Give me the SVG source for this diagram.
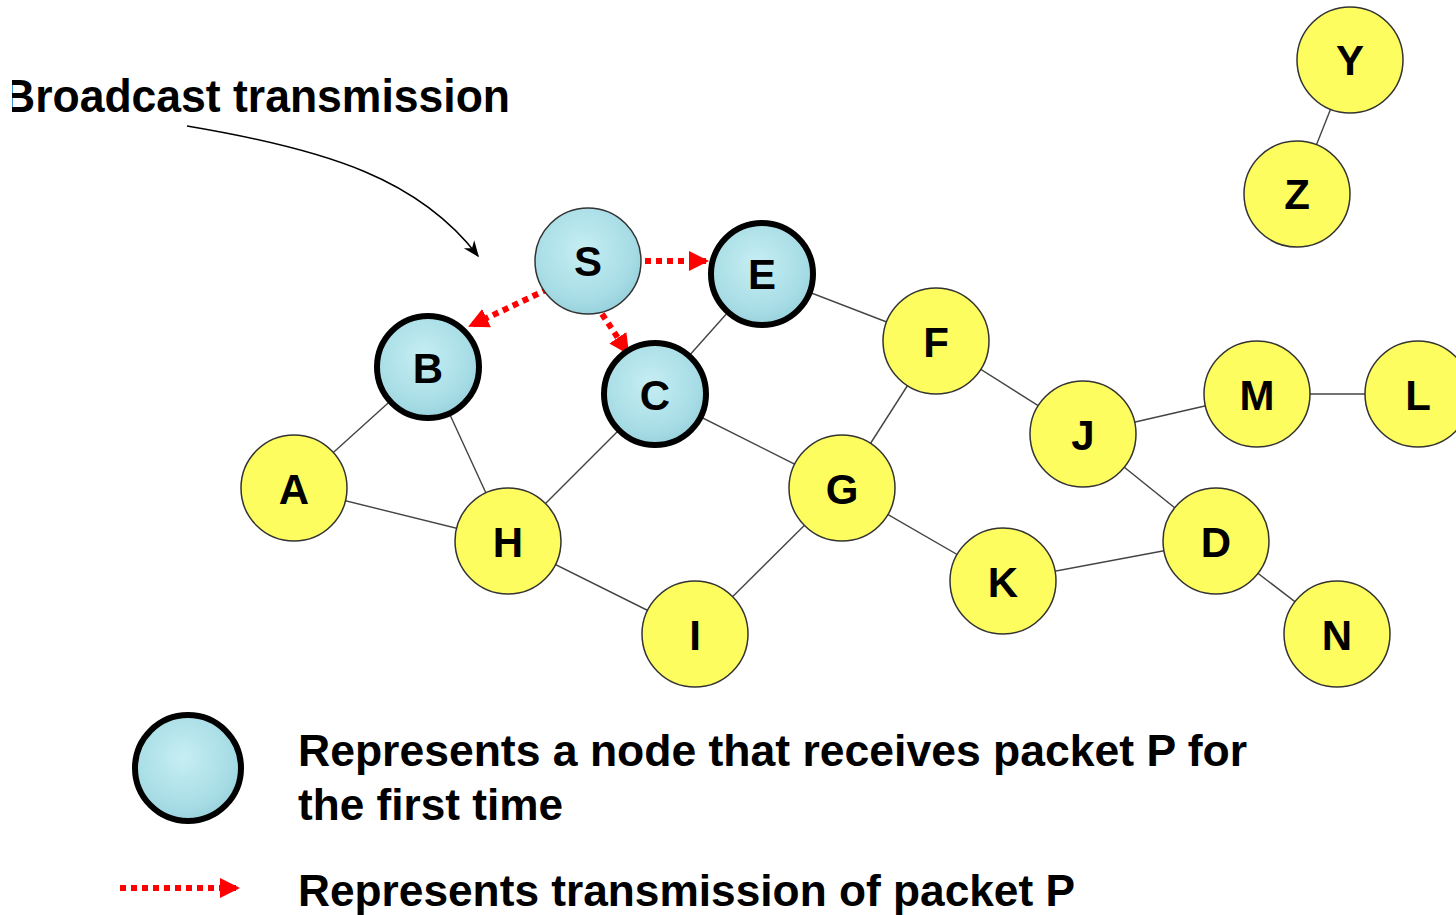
<svg xmlns="http://www.w3.org/2000/svg" width="1456" height="915" viewBox="0 0 1456 915">
<style>
.t{font-family:"Liberation Sans",Arial,sans-serif;font-weight:bold;fill:#000}
.lbl{font-size:42px;text-anchor:middle}
.big{font-size:45px}
.y{fill:#fdfd60;stroke:#333;stroke-width:1.5}
.b{fill:url(#water);stroke:#333;stroke-width:1.5}
.bt{fill:url(#water);stroke:#000;stroke-width:6}
.e{stroke:#444;stroke-width:1.4}
.r{stroke:#f00;stroke-width:6;stroke-dasharray:6 5;fill:none}
</style>
<defs>
<radialGradient id="water" cx="45%" cy="40%" r="65%">
<stop offset="0" stop-color="#c6eef3"/>
<stop offset="0.7" stop-color="#a8dde6"/>
<stop offset="1" stop-color="#94cfda"/>
</radialGradient>
<marker id="ra" viewBox="0 0 10 10" refX="9" refY="5" markerWidth="3.4" markerHeight="3.4" orient="auto" markerUnits="strokeWidth">
<path d="M0,0 L10,5 L0,10 z" fill="#f00"/>
</marker>
<marker id="ka" viewBox="0 0 10 10" refX="9" refY="5" markerWidth="11" markerHeight="11" orient="auto" markerUnits="strokeWidth">
<path d="M0,1 L10,5 L0,9 L3,5 z" fill="#000"/>
</marker>
<clipPath id="tc"><rect x="12" y="0" width="600" height="200"/></clipPath>
</defs>

<g id="title">
<text class="t" x="3" y="112" font-size="47" textLength="507" lengthAdjust="spacingAndGlyphs" clip-path="url(#tc)">Broadcast transmission</text>
<path d="M187,126 C330,150 420,180 478,256" fill="none" stroke="#000" stroke-width="1.5" marker-end="url(#ka)"/>
</g>

<g id="connectors">
<line class="e" x1="1350" y1="60" x2="1297" y2="194"/>
<line class="e" x1="762" y1="274" x2="936" y2="341"/>
<line class="e" x1="762" y1="274" x2="655" y2="394"/>
<line class="e" x1="428" y1="367" x2="294" y2="488"/>
<line class="e" x1="428" y1="367" x2="508" y2="541"/>
<line class="e" x1="294" y1="488" x2="508" y2="541"/>
<line class="e" x1="508" y1="541" x2="655" y2="394"/>
<line class="e" x1="655" y1="394" x2="842" y2="488"/>
<line class="e" x1="936" y1="341" x2="842" y2="488"/>
<line class="e" x1="936" y1="341" x2="1083" y2="434"/>
<line class="e" x1="1083" y1="434" x2="1257" y2="394"/>
<line class="e" x1="1257" y1="394" x2="1418" y2="394"/>
<line class="e" x1="1083" y1="434" x2="1216" y2="541"/>
<line class="e" x1="842" y1="488" x2="1003" y2="581"/>
<line class="e" x1="1003" y1="581" x2="1216" y2="541"/>
<line class="e" x1="1216" y1="541" x2="1337" y2="634"/>
<line class="e" x1="508" y1="541" x2="695" y2="634"/>
<line class="e" x1="842" y1="488" x2="695" y2="634"/>
<path class="r" d="M645,261 L707,261" marker-end="url(#ra)"/>
<path class="r" d="M548,289 L470,326" marker-end="url(#ra)"/>
<path class="r" d="M602,314 L628,353" marker-end="url(#ra)"/>
</g>

<g id="node-Y"><circle class="y" cx="1350" cy="60" r="53"/><text class="t lbl" x="1350" y="75">Y</text></g>
<g id="node-Z"><circle class="y" cx="1297" cy="194" r="53"/><text class="t lbl" x="1297" y="209">Z</text></g>
<g id="node-S"><circle class="b" cx="588" cy="261" r="53"/><text class="t lbl" x="588" y="276">S</text></g>
<g id="node-E"><circle class="bt" cx="762" cy="274" r="51"/><text class="t lbl" x="762" y="289">E</text></g>
<g id="node-B"><circle class="bt" cx="428" cy="367" r="51"/><text class="t lbl" x="428" y="383">B</text></g>
<g id="node-C"><circle class="bt" cx="655" cy="394" r="51"/><text class="t lbl" x="655" y="410">C</text></g>
<g id="node-F"><circle class="y" cx="936" cy="341" r="53"/><text class="t lbl" x="936" y="357">F</text></g>
<g id="node-A"><circle class="y" cx="294" cy="488" r="53"/><text class="t lbl" x="294" y="504">A</text></g>
<g id="node-H"><circle class="y" cx="508" cy="541" r="53"/><text class="t lbl" x="508" y="557">H</text></g>
<g id="node-G"><circle class="y" cx="842" cy="488" r="53"/><text class="t lbl" x="842" y="504">G</text></g>
<g id="node-J"><circle class="y" cx="1083" cy="434" r="53"/><text class="t lbl" x="1083" y="450">J</text></g>
<g id="node-M"><circle class="y" cx="1257" cy="394" r="53"/><text class="t lbl" x="1257" y="410">M</text></g>
<g id="node-L"><circle class="y" cx="1418" cy="394" r="53"/><text class="t lbl" x="1418" y="410">L</text></g>
<g id="node-D"><circle class="y" cx="1216" cy="541" r="53"/><text class="t lbl" x="1216" y="557">D</text></g>
<g id="node-K"><circle class="y" cx="1003" cy="581" r="53"/><text class="t lbl" x="1003" y="597">K</text></g>
<g id="node-I"><circle class="y" cx="695" cy="634" r="53"/><text class="t lbl" x="695" y="650">I</text></g>
<g id="node-N"><circle class="y" cx="1337" cy="634" r="53"/><text class="t lbl" x="1337" y="650">N</text></g>

<g id="legend">
<circle class="bt" cx="188" cy="768" r="53"/>
<text class="t big" x="298" y="766" textLength="949" lengthAdjust="spacingAndGlyphs">Represents a node that receives packet P for</text>
<text class="t big" x="298" y="820" textLength="265" lengthAdjust="spacingAndGlyphs">the first time</text>
<path class="r" d="M120,888 L238,888" marker-end="url(#ra)"/>
<text class="t big" x="298" y="906" textLength="777" lengthAdjust="spacingAndGlyphs">Represents transmission of packet P</text>
</g>
</svg>
